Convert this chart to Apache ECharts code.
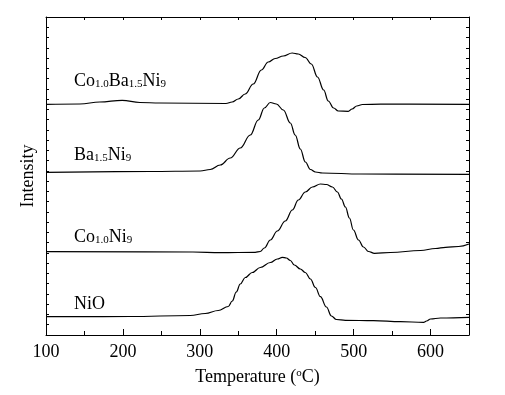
<!DOCTYPE html>
<html>
<head>
<meta charset="utf-8">
<script src="https://cdn.jsdelivr.net/npm/echarts@6/dist/echarts.min.js"></script>
<style>html,body{margin:0;padding:0;background:#fff}#c{width:505px;height:395px}</style>
</head>
<body>
<div id="c"></div>
<script>
// Temperature (°C) and intensity (a.u., offset curves)
var coBaT = [100,144,170,199,222,248,334,342,350,359,369.5,380,389,398,408.6,420,428,437,445,453,461,467,474,480,493,498,504,511.5,535,650];
var coBaY = [230.7,231,233,234.7,232.5,232,231.5,233,236,241,251,265,273,276.5,279,282,281,277.5,271,258,245,234,227,224,223.7,226,229,230.5,230.8,230.7];

var baT = [100,235,300.5,313.5,326.6,339.6,352.6,365.6,376,383.9,391.7,399.5,408.6,417.7,424,430.7,437.2,443.8,450.3,459.4,509,650];
var baY = [162.7,163.5,164,165.5,170,177,187,200,215,227,232.5,231,225,212,200,186,173,165.5,163,162,161,160.7];

var coT = [100,291,327,372,378.6,383.9,391.7,400.8,411.2,420.3,428.1,437.2,446.4,456.8,464.6,472.4,478.9,484.1,489.3,494.5,499.7,506.3,512.8,519.3,527.1,547.9,587,606.5,619.5,636.5,650];
var coY = [83.3,83,82.3,82.7,83.5,87,95,104,114,125,135,143,148,151,150.5,148,143,136,128,117,105,95,88,83.5,81.7,82.5,84.5,86.5,87.7,88.5,91];

var nioT = [100,209,287.5,307,324,337,342.2,347.4,352.6,359.1,368.2,378.6,391.7,400.8,407.3,412.5,417.7,422.9,430.7,437.2,443.8,450.3,456.8,464.6,471.1,477.6,489.3,525.8,560.9,590.9,594.8,600,613,650];
var nioY = [18.3,18.5,19.5,21.5,24.5,28.5,34,43,51,57.5,62.5,67.5,72.5,76,77.7,77,74.5,70,66,62.5,56,47.5,38.3,28,19,15.5,14.7,14.3,13.3,12.7,14,16,17,17.7];

var seriesNames = ['Co1.0Ba1.5Ni9','Ba1.5Ni9','Co1.0Ni9','NiO'];
var xTicks = [100,200,300,400,500,600];

function pairs(t, y){ return t.map(function(v,i){ return [v, y[i]]; }); }

var FONT = '"Liberation Serif", "Times New Roman", serif';
var chart = echarts.init(document.getElementById('c'));

function lineSeries(name, t, y){
  return {
    name: name, type: 'line', data: pairs(t, y),
    xAxisIndex: 0, yAxisIndex: 0,
    showSymbol: false, smooth: 0.4, smoothMonotone: 'x',
    lineStyle: {color: '#000', width: 1.2},
    itemStyle: {color: '#000'},
    animation: false
  };
}

var richM = {fontSize: 18, fontFamily: FONT, lineHeight: 18, verticalAlign: 'top', fill: '#000', color:'#000'};
var richS = {fontSize: 11, fontFamily: FONT, lineHeight: 18, verticalAlign: 'bottom', fill: '#000', color:'#000'};

function labelText(x, y, txt){
  return {
    type: 'text', left: x, top: y, silent: true,
    style: {text: txt, rich: {m: richM, s: richS}, fill: '#000'}
  };
}

var yMax = 318, yInt = 318/31;

chart.setOption({
  animation: false,
  backgroundColor: '#fff',
  grid: {left: 46, right: 36, top: 17, bottom: 60, show: false},
  xAxis: [
    {type: 'value', position: 'bottom', min: 100, max: 650, interval: 100,
     axisLine: {show: true, onZero: false, lineStyle: {color: '#000', width: 1}},
     axisTick: {show: true, inside: true, length: 6, lineStyle: {color: '#000'}},
     axisLabel: {show: true, margin: 8, color: '#000', fontSize: 18, fontFamily: FONT, showMaxLabel: false,
       formatter: function(v){ return xTicks.indexOf(v) >= 0 ? String(v) : ''; }},
     splitLine: {show: false},
     name: '{m|Temperature (}{p|o}{m|C)}', nameLocation: 'middle', nameGap: 33,
     nameTextStyle: {color: '#000', fontSize: 18, fontFamily: FONT,
       rich: {m: {fontSize: 18, fontFamily: FONT, color: '#000', lineHeight: 18, verticalAlign: 'top'},
              p: {fontSize: 11, fontFamily: FONT, color: '#000', lineHeight: 11, verticalAlign: 'top'}}}},
    {type: 'value', position: 'bottom', min: 100, max: 650, interval: 50, gridIndex: 0,
     axisLine: {show: false, onZero: false},
     axisTick: {show: true, inside: true, length: 4, lineStyle: {color: '#000'}},
     axisLabel: {show: false}, splitLine: {show: false}},
    {type: 'value', position: 'top', min: 100, max: 650, interval: 50,
     axisLine: {show: true, onZero: false, lineStyle: {color: '#000', width: 1}},
     axisTick: {show: true, inside: true, length: 3, lineStyle: {color: '#000'}},
     axisLabel: {show: false}, splitLine: {show: false}}
  ],
  yAxis: [
    {type: 'value', position: 'left', min: 0, max: yMax, interval: yInt,
     axisLine: {show: true, onZero: false, lineStyle: {color: '#000', width: 1}},
     axisTick: {show: true, inside: true, length: 3, lineStyle: {color: '#000'}},
     axisLabel: {show: false}, splitLine: {show: false},
     name: 'Intensity', nameLocation: 'middle', nameGap: 9,
     nameTextStyle: {color: '#000', fontSize: 18, fontFamily: FONT}},
    {type: 'value', position: 'right', min: 0, max: yMax, interval: yInt,
     axisLine: {show: true, onZero: false, lineStyle: {color: '#000', width: 1}},
     axisTick: {show: true, inside: true, length: 3, lineStyle: {color: '#000'}},
     axisLabel: {show: false}, splitLine: {show: false}}
  ],
  series: [
    lineSeries(seriesNames[0], coBaT, coBaY),
    lineSeries(seriesNames[1], baT, baY),
    lineSeries(seriesNames[2], coT, coY),
    lineSeries(seriesNames[3], nioT, nioY)
  ],
  graphic: [
    labelText(74, 72, '{m|Co}{s|1.0}{m|Ba}{s|1.5}{m|Ni}{s|9}'),
    labelText(74, 146, '{m|Ba}{s|1.5}{m|Ni}{s|9}'),
    labelText(74, 228, '{m|Co}{s|1.0}{m|Ni}{s|9}'),
    labelText(74, 295, '{m|NiO}')
  ]
});
</script>
</body>
</html>
